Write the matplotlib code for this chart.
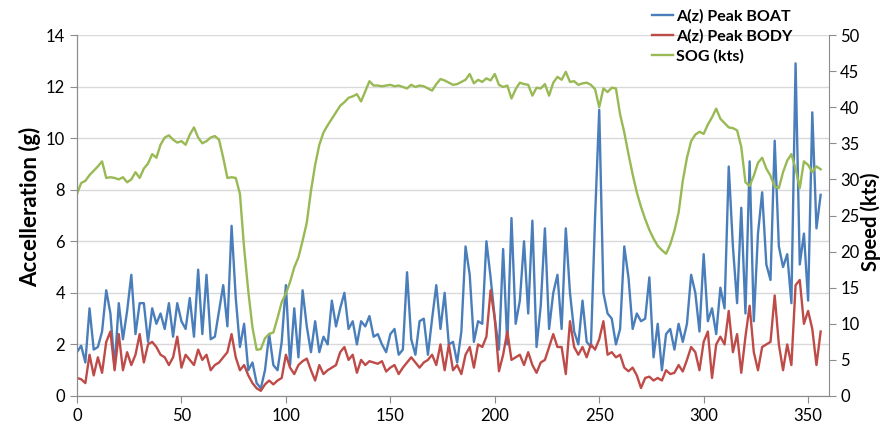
import numpy as np
import matplotlib
matplotlib.use("Agg")
import matplotlib.pyplot as plt

# sample index (every 2nd sample)
t = np.arange(0, 358, 2)

# A(z) peak on the boat (g)
boat = [1.7, 1.95, 1.3, 3.4, 1.8, 1.9, 2.5, 4.1, 3.2, 1.1,
        3.6, 2.2, 3.3, 4.7, 2.4, 3.6, 3.6, 2.1, 3.4, 2.8,
        3.2, 2.6, 3.6, 2.3, 3.6, 2.9, 2.6, 3.8, 2.3, 4.9,
        2.4, 4.7, 2.2, 2.3, 3.3, 4.3, 2.7, 6.6, 3.8, 1.9,
        2.8, 1.0, 1.3, 0.5, 0.3, 1.0, 2.4, 1.2, 1.0, 2.1,
        4.3, 1.2, 3.4, 1.5, 4.1, 2.7, 1.7, 2.9, 1.7, 2.3,
        2.0, 3.7, 2.7, 3.4, 4.0, 2.6, 2.9, 2.0, 2.9, 2.7,
        3.1, 2.3, 2.4, 2.0, 1.7, 2.4, 2.6, 1.6, 1.8, 4.8,
        2.2, 1.6, 2.9, 3.0, 1.6, 3.0, 4.3, 2.6, 4.0, 2.0,
        2.1, 1.3, 2.5, 5.8, 4.7, 2.1, 2.9, 2.8, 6.0, 4.6,
        3.0, 1.8, 5.7, 2.0, 6.9, 2.8, 3.7, 6.0, 3.2, 6.8,
        1.9, 3.5, 6.5, 2.6, 4.0, 4.7, 2.6, 6.5, 4.0, 2.5,
        2.0, 3.7, 2.1, 1.9, 6.9, 11.1, 4.0, 3.2, 3.0, 2.0,
        2.6, 5.8, 4.6, 2.6, 3.2, 2.9, 3.0, 4.6, 1.5, 2.8,
        1.0, 2.4, 2.6, 1.8, 2.8, 2.1, 2.8, 4.7, 4.0, 2.5,
        5.5, 2.9, 3.4, 2.4, 4.2, 3.4, 8.9, 5.8, 3.6, 7.3,
        3.2, 9.1, 2.9, 6.3, 7.9, 5.1, 4.5, 9.9, 5.8, 5.0,
        5.5, 3.6, 12.9, 5.1, 6.3, 3.7, 11.0, 6.5, 7.8]

# A(z) peak on the body (g)
body = [0.7, 0.65, 0.5, 1.6, 0.8, 1.5, 0.9, 2.1, 2.5, 1.0,
        2.4, 1.0, 1.7, 1.2, 1.6, 2.4, 1.3, 2.0, 2.1, 1.9,
        1.6, 1.5, 1.2, 1.5, 2.3, 1.1, 1.6, 1.4, 1.2, 1.8,
        1.4, 1.6, 1.0, 1.2, 1.3, 1.5, 1.7, 2.4, 1.5, 1.0,
        1.2, 0.8, 0.5, 0.3, 0.2, 0.45, 0.6, 0.45, 0.6, 0.7,
        1.6, 1.1, 0.85, 1.2, 1.35, 1.45, 1.0, 0.6, 1.2, 0.85,
        1.0, 1.1, 1.2, 1.7, 1.9, 1.4, 1.6, 0.9, 1.4, 1.2,
        1.35, 1.3, 1.25, 1.35, 0.95, 1.1, 1.2, 0.85, 1.1, 1.3,
        1.5, 1.3, 1.1, 1.3, 1.4, 1.6, 1.2, 2.0, 1.0, 2.0,
        1.0, 1.2, 0.85, 1.6, 1.9, 1.1, 2.0, 1.9, 2.3, 4.1,
        3.0, 0.96, 1.6, 2.5, 1.4, 1.5, 1.6, 1.2, 1.7, 1.2,
        0.9, 1.3, 1.4, 1.9, 2.4, 1.9, 1.9, 0.85, 2.9, 1.9,
        1.6, 1.9, 1.5, 2.0, 1.8, 2.2, 2.9, 1.6, 1.7, 1.5,
        1.6, 1.1, 0.96, 1.1, 0.8, 0.31, 0.7, 0.75, 0.6, 0.7,
        0.6, 1.0, 0.85, 0.9, 1.2, 0.95, 1.4, 1.9, 1.7, 1.0,
        2.1, 2.5, 0.7, 2.0, 2.3, 2.0, 3.3, 1.7, 2.4, 0.9,
        2.3, 3.5, 1.7, 1.0, 1.9, 2.0, 2.1, 3.9, 2.0, 1.0,
        2.0, 1.2, 4.3, 4.5, 2.8, 3.3, 2.6, 1.2, 2.5]

# speed over ground (kts)
sog = [28.0, 29.5, 29.8, 30.6, 31.2, 31.8, 32.5, 30.2, 30.3, 30.2,
       30.0, 30.3, 29.6, 30.0, 31.0, 30.2, 31.5, 32.2, 33.5, 33.0,
       34.8, 35.8, 36.1, 35.5, 35.1, 35.3, 34.8, 36.2, 37.2, 35.8,
       35.0, 35.3, 35.8, 36.0, 35.5, 33.0, 30.2, 30.3, 30.2, 28.0,
       20.5, 14.5, 9.5, 6.4, 6.5, 8.0, 8.6, 8.8, 10.8, 13.0,
       14.2, 15.8, 17.8, 19.2, 21.5, 24.0, 28.4, 32.0, 34.8, 36.5,
       37.5, 38.4, 39.3, 40.2, 40.7, 41.3, 41.5, 41.8, 40.8, 42.2,
       43.6, 43.0, 43.0, 42.9, 43.0, 43.1, 42.9, 43.0, 42.8, 42.6,
       43.1, 42.8, 43.0, 42.9, 42.6, 42.3, 43.2, 43.9, 43.7, 43.4,
       43.1, 43.2, 43.5, 43.8, 44.6, 43.3, 43.8, 43.5, 44.0, 43.7,
       44.6, 43.1, 42.8, 43.0, 41.2, 42.5, 43.4, 43.2, 43.1, 41.6,
       42.7, 42.6, 43.2, 41.6, 43.4, 44.2, 43.8, 44.9, 43.5, 43.6,
       43.1, 43.3, 43.4, 43.1, 42.5, 40.0, 42.6, 42.1, 42.7, 42.6,
       39.0, 36.5, 33.5, 30.7, 28.2, 26.2, 24.5, 23.0, 21.8, 20.8,
       20.2, 19.7, 21.0, 22.9, 25.4, 29.8, 33.0, 35.3, 36.2, 36.6,
       36.3, 37.6, 38.6, 39.8, 38.4, 37.8, 37.2, 37.1, 36.8, 34.5,
       29.6, 29.1, 30.5, 32.3, 33.0, 31.5, 30.5, 29.0, 28.8, 31.0,
       32.6, 33.5, 31.5, 28.8, 32.5, 32.0, 31.0, 31.8, 31.4]

plt.rcParams['font.family'] = ['Lato', 'DejaVu Sans']
axis_col = '#8c8c8c'

fig = plt.figure(figsize=(8.8, 4.28), dpi=100)
ax = fig.add_axes([77/880, 1-396/428, (829-77)/880, (396-35)/428])
ax2 = ax.twinx()

l1, = ax.plot(t, boat, color='#4a7ebb', lw=1.7, label='A(z) Peak BOAT')
l2, = ax.plot(t, body, color='#be4b48', lw=1.7, label='A(z) Peak BODY')
l3, = ax2.plot(t, sog, color='#98b954', lw=1.7, label='SOG (kts)')

ax.set_xlim(0, 360)
ax.set_ylim(0, 14)
ax.set_xticks(range(0, 351, 50))
ax.set_yticks(range(0, 15, 2))
ax2.set_ylim(0, 50)
ax2.set_yticks(range(0, 51, 5))
ax.grid(axis='y', color='#d9d9d9', lw=1)
ax.set_axisbelow(True)

for a in (ax, ax2):
    a.spines['top'].set_visible(False)
    for s in ('left', 'right', 'bottom'):
        a.spines[s].set_color(axis_col)
    a.tick_params(colors=axis_col, labelcolor='black', labelsize=12, length=5)
ax.spines['right'].set_visible(False)
ax2.tick_params(pad=3)

fig.text(30/880, 1-207/428, 'Accelleration (g)', rotation=90, ha='center', va='center',
         fontsize=16, fontweight='bold')
fig.text(871/880, 1-222/428, 'Speed (kts)', rotation=90, ha='center', va='center',
         fontsize=14.5, fontweight='bold')

fig.legend(handles=[l1, l2, l3], loc='upper left', bbox_to_anchor=(643/880, 1.0),
           frameon=False, prop={'weight': 'bold', 'size': 11.5}, handlelength=1.3,
           handletextpad=0.2, labelspacing=0.35, borderaxespad=0.15)

fig.savefig('out.png', dpi=100)
